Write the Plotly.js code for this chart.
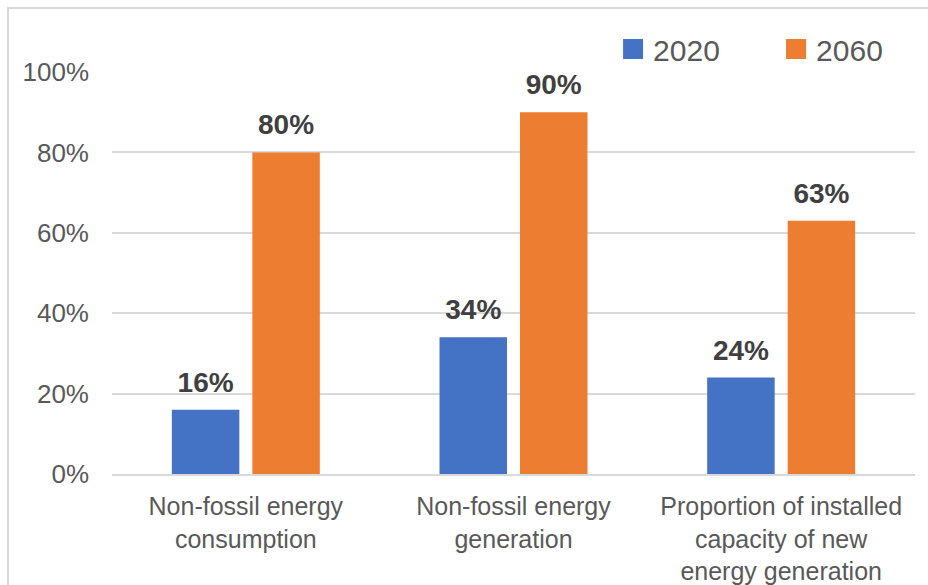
<!DOCTYPE html>
<html>
<head>
<meta charset="utf-8">
<script src="https://cdn.plot.ly/plotly-3.0.1.min.js"></script>
<style>html,body{margin:0;padding:0;background:#fff;}#chart{width:928px;height:585px;}</style>
</head>
<body>
<div id="chart"></div>
<script>
const categories = [
  "Non-fossil energy<br>consumption",
  "Non-fossil energy<br>generation",
  "Proportion of installed<br>capacity of new<br>energy generation"
];
const seriesNames = ["2020", "2060"];
const values2020 = [16, 34, 24];
const values2060 = [80, 90, 63];
const seriesColors = ["#4472C4", "#ED7D31"];
const yTickVals = [0, 20, 40, 60, 80, 100];
const yTickText = ["0%", "20%", "40%", "60%", "80%", "100%"];

const FONT = "Liberation Sans, Arial, sans-serif";
const labelFont = {family: FONT, size: 28, color: "#404040"};
const GAP = 0.3986;

function barTrace(name, vals, color, grp) {
  return {
    type: "bar", name: name, x: categories, y: vals,
    offsetgroup: grp,
    marker: {color: color}, showlegend: false,
    hoverinfo: "skip"
  };
}
function labelTrace(name, vals, grp) {
  return {
    type: "scatter", mode: "markers+text", name: name + " labels", x: categories, y: vals,
    offsetgroup: grp,
    marker: {size: 16, opacity: 0},
    text: vals.map(v => "<b>" + v + "%</b>"),
    textposition: "top center",
    textfont: labelFont,
    cliponaxis: false, showlegend: false, hoverinfo: "skip"
  };
}
// legend entries (no visible marks) so the legend swatch can be drawn larger
function legendTrace(name, color, grp) {
  return {
    type: "scatter", mode: "markers", name: name, x: [categories[0]], y: [null],
    offsetgroup: grp,
    marker: {symbol: "square", size: 16, color: color, line: {color: color, width: 4}},
    showlegend: true, hoverinfo: "skip"
  };
}

const data = [
  barTrace(seriesNames[0], values2020, seriesColors[0], "a"),
  barTrace(seriesNames[1], values2060, seriesColors[1], "b"),
  labelTrace(seriesNames[0], values2020, "a"),
  labelTrace(seriesNames[1], values2060, "b"),
  legendTrace(seriesNames[0], seriesColors[0], "a"),
  legendTrace(seriesNames[1], seriesColors[1], "b")
];

const layout = {
  width: 928, height: 585,
  margin: {l: 112, r: 13, t: 72, b: 111, pad: 0, autoexpand: false},
  paper_bgcolor: "#ffffff", plot_bgcolor: "#ffffff",
  barmode: "group", bargap: GAP, bargroupgap: 0.1615,
  scattermode: "group", scattergap: GAP,
  font: {family: FONT, color: "#595959"},
  xaxis: {
    type: "category",
    tickfont: {family: FONT, size: 25, color: "#595959"},
    showgrid: false, zeroline: false, showline: true, linecolor: "#d9d9d9", linewidth: 2,
    ticks: "", ticklabelstandoff: 9, fixedrange: true
  },
  yaxis: {
    range: [0, 100], tickmode: "array", tickvals: yTickVals, ticktext: yTickText,
    tickfont: {family: FONT, size: 26, color: "#595959"},
    showgrid: true, gridcolor: "#d9d9d9", gridwidth: 2,
    zeroline: false, showline: false, ticks: "", ticklabelstandoff: 22, fixedrange: true
  },
  showlegend: true,
  legend: {
    orientation: "h", x: 0.624, xanchor: "left", y: 1.057, yanchor: "middle",
    font: {family: FONT, size: 30, color: "#595959"},
    entrywidth: 118, entrywidthmode: "pixels",
    bgcolor: "rgba(0,0,0,0)", traceorder: "normal"
  },
  shapes: [{
    type: "rect", xref: "paper", yref: "paper", layer: "below",
    x0: -0.1295, x1: 1.05, y0: -0.35, y1: 1.1592,
    line: {color: "#d9d9d9", width: 2}, fillcolor: "rgba(0,0,0,0)"
  }]
};

Plotly.newPlot("chart", data, layout, {displayModeBar: false, staticPlot: true});
</script>
</body>
</html>
